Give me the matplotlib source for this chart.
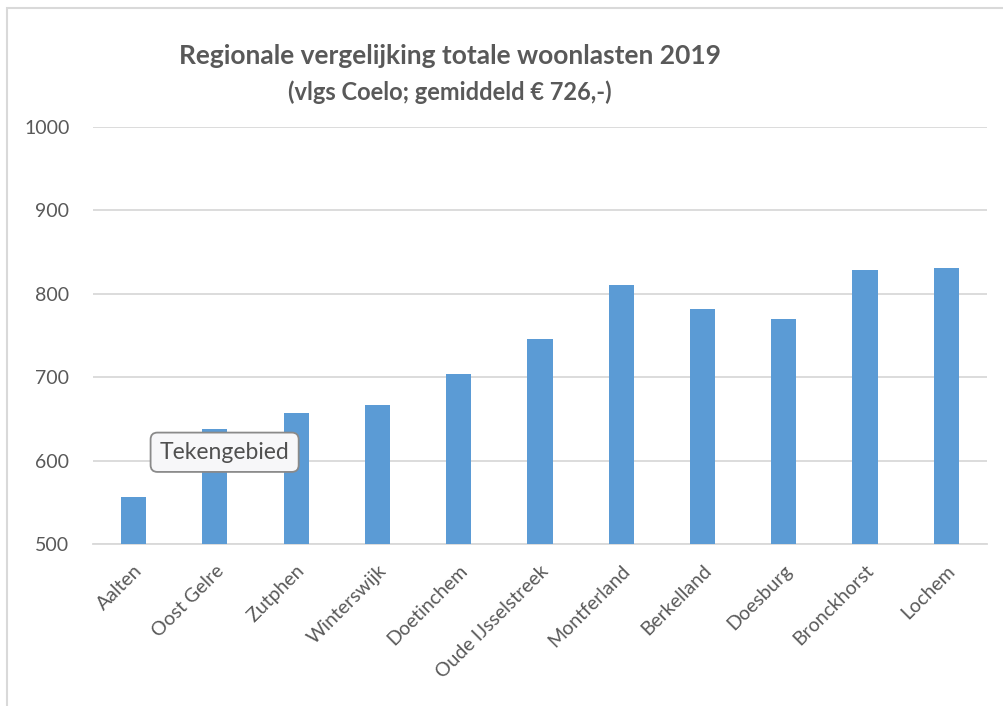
import matplotlib.pyplot as plt
from matplotlib.patches import Rectangle

plt.rcParams['font.family'] = ['Lato', 'DejaVu Sans']

gemeenten = ['Aalten', 'Oost Gelre', 'Zutphen', 'Winterswijk', 'Doetinchem',
             'Oude IJsselstreek', 'Montferland', 'Berkelland', 'Doesburg',
             'Bronckhorst', 'Lochem']
woonlasten = [556, 638, 657, 667, 704, 746, 810, 782, 770, 829, 831]
yticks = [500, 600, 700, 800, 900, 1000]

fig = plt.figure(figsize=(10.04, 7.06), dpi=100)
ax = fig.add_axes([0.0926, 0.2295, 0.8904, 0.5905])

# chart frame like in Excel
fig.patches.append(Rectangle((0.007, -0.05), 1.1, 1.039, transform=fig.transFigure,
                             fill=False, edgecolor='#d9d9d9', linewidth=1.5))

x = range(len(gemeenten))
ax.bar(x, woonlasten, width=0.31, color='#5b9bd5', zorder=3)

ax.set_xlim(-0.5, len(gemeenten) - 0.5)
ax.set_ylim(500, 1000)
ax.set_yticks(yticks)
ax.yaxis.grid(True, color='#d9d9d9', linewidth=1.3, zorder=0)
ax.set_axisbelow(True)
for s in ['top', 'right', 'left']:
    ax.spines[s].set_visible(False)
ax.spines['bottom'].set_color('#d9d9d9')
ax.spines['bottom'].set_linewidth(1.3)
ax.tick_params(axis='both', length=0, colors='#595959', labelsize=14)
ax.tick_params(axis='y', pad=17)

ax.set_xticks(list(x))
ax.set_xticklabels(gemeenten, rotation=45, ha='right', va='top',
                   rotation_mode='anchor')
ax.tick_params(axis='x', pad=13)

fig.text(0.448, 0.921, 'Regionale vergelijking totale woonlasten 2019',
         ha='center', va='center', fontsize=19, fontweight='bold', color='#595959')
fig.text(0.448, 0.869, '(vlgs Coelo; gemiddeld € 726,-)',
         ha='center', va='center', fontsize=17, fontweight='bold', color='#595959')

# tooltip visible in the screenshot
ax.text(1.12, 610, 'Tekengebied', ha='center', va='center', fontsize=16.5,
        color='#505050', zorder=5,
        bbox=dict(boxstyle='round,pad=0.4,rounding_size=0.3', facecolor='#f7f7f9',
                  edgecolor='#8a8a8a', linewidth=1.3))

fig.savefig('out.png', dpi=100, facecolor='white')
